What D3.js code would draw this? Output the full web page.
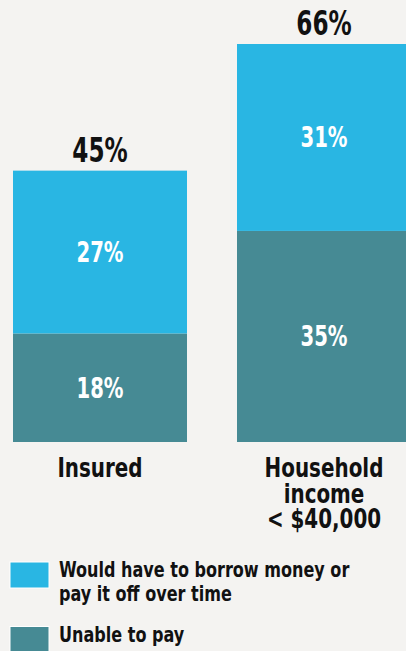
<!DOCTYPE html>
<html>
<head>
<meta charset="utf-8">
<script src="https://cdn.jsdelivr.net/npm/d3@7"></script>
<style>
  html, body { margin: 0; padding: 0; background: #f4f3f1; overflow: hidden; }
  text { font-family: "DejaVu Sans Condensed", "DejaVu Sans", sans-serif; font-weight: bold; }
</style>
</head>
<body>
<div id="chart"></div>
<script>
// données
const categories = ["Insured", "Household income < $40,000"];
const categoryLines = [["Insured"], ["Household", "income", "< $40,000"]];
const unableToPay = [18, 35];
const borrowMoney = [27, 31];
const totals = [45, 66];
const seriesNames = ["Would have to borrow money or pay it off over time", "Unable to pay"];
const legendLines = [["Would have to borrow money or", "pay it off over time"], ["Unable to pay"]];

const largeur = 406, hauteur = 651;
const couleurs = { borrow: "#29b6e3", unable: "#468a94" };

// place un texte resserré horizontalement (police condensée absente)
const placer = (fx, fy, k) => (d, i) => `translate(${fx(d, i)},${fy(d, i)}) scale(${k},1)`;

const svg = d3.select("#chart").append("svg")
    .attr("width", largeur).attr("height", hauteur);

svg.append("rect").attr("width", largeur).attr("height", hauteur).attr("fill", "#f4f3f1");

// échelles
const x = d3.scaleBand().domain(categories).range([13, 411]).paddingInner(50 / 224).paddingOuter(0);
const y = d3.scaleLinear().domain([0, 66]).range([442, 44]);

const table = categories.map((c, i) => ({ cat: c, unable: unableToPay[i], borrow: borrowMoney[i], total: totals[i] }));
const stack = d3.stack().keys(["unable", "borrow"])(table);

// barres empilées
const groupes = svg.append("g").selectAll("g").data(stack).join("g")
    .attr("fill", s => couleurs[s.key]);

groupes.selectAll("rect").data(s => s).join("rect")
    .attr("x", d => x(d.data.cat))
    .attr("y", d => y(d[1]))
    .attr("width", x.bandwidth())
    .attr("height", d => y(d[0]) - y(d[1]));

// étiquettes des segments
groupes.selectAll("text").data(s => s.map(d => ({ d, key: s.key }))).join("text")
    .attr("transform", placer(
        o => x(o.d.data.cat) + x.bandwidth() / 2,
        o => (y(o.d[0]) + y(o.d[1])) / 2 + 10, 0.78))
    .attr("text-anchor", "middle")
    .attr("fill", "#ffffff")
    .attr("font-size", 28)
    .text(o => o.d.data[o.key] + "%");

// totaux
svg.append("g").selectAll("text").data(table).join("text")
    .attr("transform", placer(d => x(d.cat) + x.bandwidth() / 2, d => y(d.total) - 9, 0.78))
    .attr("text-anchor", "middle")
    .attr("fill", "#111111")
    .attr("font-size", 33)
    .text(d => d.total + "%");

// catégories
const lignesCat = categories.flatMap((c, i) => categoryLines[i].map((l, j) => ({ c, l, j })));
svg.append("g").selectAll("text").data(lignesCat).join("text")
    .attr("transform", placer(o => x(o.c) + x.bandwidth() / 2, o => 477 + o.j * 25.5, 0.82))
    .attr("text-anchor", "middle")
    .attr("fill", "#111111")
    .attr("font-size", 27)
    .text(o => o.l);

// légende
const legende = svg.append("g").selectAll("g").data(seriesNames).join("g")
    .attr("transform", (s, i) => `translate(10, ${562 + i * 64.5})`);

legende.append("rect")
    .attr("width", 39).attr("height", 26)
    .attr("fill", (s, i) => i === 0 ? couleurs.borrow : couleurs.unable)
    .attr("stroke", "#ffffff").attr("stroke-width", 1);

legende.selectAll("text").data((s, i) => legendLines[i]).join("text")
    .attr("transform", placer(() => 49, (l, j) => 15 + j * 23.5, 0.85))
    .attr("fill", "#111111")
    .attr("font-size", 21)
    .text(l => l);
</script>
</body>
</html>
